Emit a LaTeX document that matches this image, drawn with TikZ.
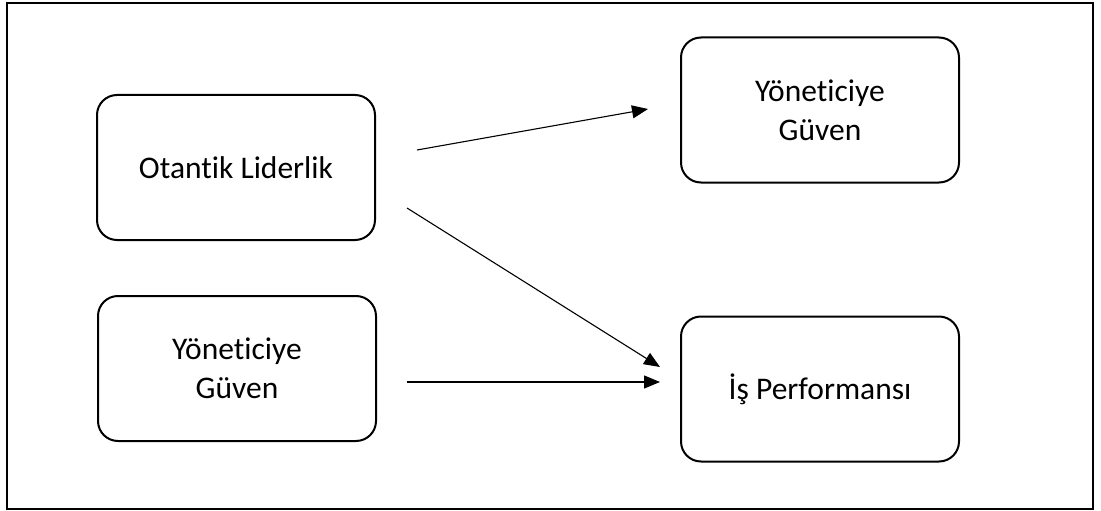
\documentclass[tikz,border=0pt]{standalone}
\usepackage{fontspec}
\setmainfont{Carlito}[Ligatures={NoCommon,NoRequired,NoContextual}]
\usetikzlibrary{arrows.meta}
\begin{document}
\begin{tikzpicture}[x=1pt,y=-1pt,
  box/.style={draw=black,line width=2pt,rounded corners=20pt,minimum width=278pt,minimum height=145pt,align=center,inner sep=0pt,
    font=\fontsize{31.5}{39}\selectfont},
  conn/.style={line width=1.1pt,-{Triangle[length=16pt,width=13pt]}}]
\useasboundingbox (0,0) rectangle (1101,511);
\draw[line width=1.8pt] (7,3) rectangle (1093,509);
\node[box] (ol) at (236,167.5) {Otantik Liderlik};
\node[box] (yg1) at (820,110) {Yöneticiye\\Güven};
\node[box] (yg2) at (237,368.5) {Yöneticiye\\Güven};
\node[box] (ip) at (820,389) {İş Performansı};
\coordinate (a1s) at (417,150);
\coordinate (a1e) at (648,109);
\coordinate (a2s) at (407,208);
\coordinate (a2e) at (660,367);
\coordinate (a3s) at (407,382);
\coordinate (a3e) at (660,382);
\draw[conn] (a1s) -- (a1e);
\draw[conn] (a2s) -- (a2e);
\draw[conn] (a3s) -- (a3e);
\end{tikzpicture}
\end{document}
